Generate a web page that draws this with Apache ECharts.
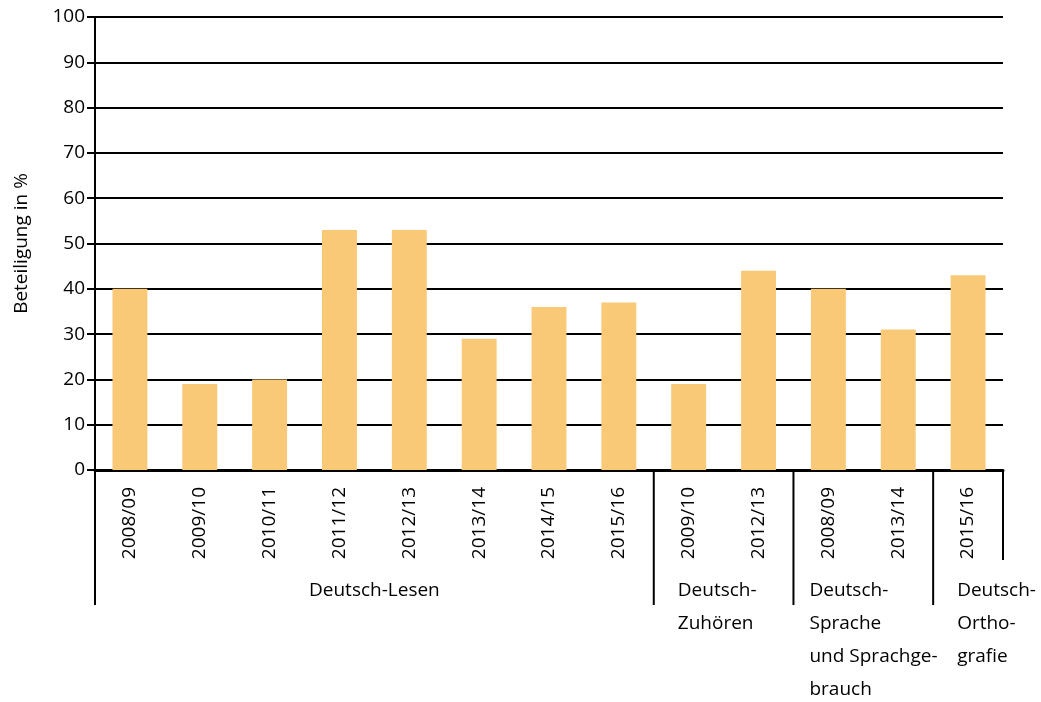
<!DOCTYPE html>
<html>
<head>
<meta charset="utf-8">
<script src="https://cdn.jsdelivr.net/npm/echarts@6/dist/echarts.min.js"></script>
<style>
  html, body { margin: 0; padding: 0; background: #fff; }
  #main { width: 1041px; height: 702px; }
</style>
</head>
<body>
<div id="main"></div>
<script>
// Schuljahre (Kategorien) und Beteiligung in %
const years = ['2008/09', '2009/10', '2010/11', '2011/12', '2012/13', '2013/14', '2014/15', '2015/16',
  '2009/10', '2012/13', '2008/09', '2013/14', '2015/16'];
const values = [40, 19, 20, 53, 53, 29, 36, 37, 19, 44, 40, 31, 43];
// Gruppen: Name und Anzahl Kategorien
const groupNames = ['Deutsch-Lesen', 'Deutsch-\nZuhören', 'Deutsch-\nSprache\nund Sprachge-\nbrauch', 'Deutsch-\nOrtho-\ngrafie'];
const groupSizes = [8, 2, 2, 1];
const yTicks = [0, 10, 20, 30, 40, 50, 60, 70, 80, 90, 100];

const font = '"Open Sans", "Noto Sans", sans-serif';
const myChart = echarts.init(document.getElementById('main'));

const option = {
  animation: false,
  backgroundColor: '#fff',
  grid: { left: 95, right: 38, top: 17, bottom: 232 },
  xAxis: {
    type: 'category',
    data: years,
    axisLine: { lineStyle: { color: '#000', width: 3 } },
    axisTick: { length: 7, lineStyle: { color: '#000', width: 2 } },
    axisLabel: { rotate: 90, margin: 17, color: '#000', fontSize: 19, fontFamily: font }
  },
  yAxis: {
    type: 'value',
    min: yTicks[0],
    max: yTicks[yTicks.length - 1],
    interval: 10,
    name: 'Beteiligung in %',
    nameLocation: 'middle',
    nameGap: 64,
    nameTextStyle: { color: '#000', fontSize: 19, fontFamily: font },
    axisLine: { show: true, lineStyle: { color: '#000', width: 2 } },
    axisTick: { show: true, length: 8, lineStyle: { color: '#000', width: 2 } },
    axisLabel: { color: '#000', fontSize: 19, fontFamily: font, margin: 10 },
    splitLine: { lineStyle: { color: '#000', width: 2 } }
  },
  series: [{
    type: 'bar',
    data: values,
    barWidth: '50%',
    itemStyle: { color: '#FAC977' }
  }]
};
myChart.setOption(option);

// Gruppenlinien und -beschriftungen aus den Achsenpositionen
function groupGraphics() {
  const y0 = myChart.convertToPixel({ yAxisIndex: 0 }, 0);
  const x0 = myChart.convertToPixel({ xAxisIndex: 0 }, 0);
  const x1 = myChart.convertToPixel({ xAxisIndex: 0 }, 1);
  const band = x1 - x0;
  const edge = i => x0 - band / 2 + i * band;
  const elements = [];
  const offsets = [null, 24, 16, 24];
  let start = 0;
  groupNames.forEach((name, g) => {
    const xs = edge(start);
    const xe = edge(start + groupSizes[g]);
    elements.push({
      type: 'line',
      shape: { x1: xs, y1: y0, x2: xs, y2: y0 + 135 },
      style: { stroke: '#000', lineWidth: 2 }
    });
    elements.push({
      type: 'text',
      x: g === 0 ? (xs + xe) / 2 : xs + offsets[g],
      y: y0 + 104,
      style: {
        text: name, fill: '#000', font: '19px ' + font,
        align: g === 0 ? 'center' : 'left', verticalAlign: 'top', lineHeight: 33
      }
    });
    start += groupSizes[g];
  });
  const xl = edge(start);
  elements.push({
    type: 'line',
    shape: { x1: xl, y1: y0, x2: xl, y2: y0 + 90 },
    style: { stroke: '#000', lineWidth: 2 }
  });
  myChart.setOption({ graphic: elements });
}
groupGraphics();
</script>
</body>
</html>
